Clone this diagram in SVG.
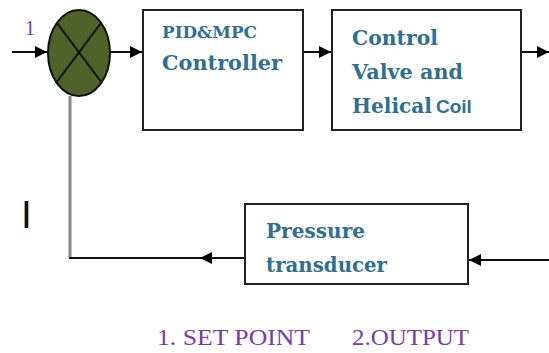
<svg xmlns="http://www.w3.org/2000/svg" width="549" height="353" viewBox="0 0 549 353">
<style>
.box{fill:#fff;stroke:#222;stroke-width:2}
.t{font-family:"DejaVu Serif","Liberation Serif",serif;font-weight:bold;fill:#2f6f8f}
.ln{fill:none;stroke:#111;stroke-width:2}
.gr{fill:none;stroke:#888;stroke-width:3}
.lab{font-family:"Liberation Serif",serif;fill:#7a3aa8}
</style>
<defs>
<marker id="ah" viewBox="0 0 10 10" refX="10" refY="5" markerWidth="12" markerHeight="12" markerUnits="userSpaceOnUse" orient="auto">
<path d="M0,0 L10,5 L0,10 z" fill="#000"/>
</marker>
</defs>
<g id="connectors">
<line class="ln" x1="12" y1="52" x2="47" y2="52" marker-end="url(#ah)"/>
<line class="ln" x1="110" y1="52" x2="142" y2="52" marker-end="url(#ah)"/>
<line class="ln" x1="303" y1="52" x2="331" y2="52" stroke="#444" marker-end="url(#ah)"/>
<line class="ln" x1="521" y1="52" x2="549" y2="52" marker-end="url(#ah)"/>
<line class="gr" x1="70" y1="96" x2="70" y2="258"/>
<line class="ln" x1="245" y1="258" x2="69" y2="258"/>
<line class="ln" x1="245" y1="258" x2="200" y2="258" marker-end="url(#ah)"/>
<line class="ln" x1="549" y1="260" x2="469" y2="260" stroke="#555" marker-end="url(#ah)"/>
</g>
<g id="sum">
<ellipse cx="79" cy="53" rx="31" ry="43" fill="#4f6228" stroke="#111" stroke-width="2"/>
<line x1="57" y1="23" x2="102" y2="83" stroke="#111" stroke-width="2"/>
<line x1="101" y1="23" x2="56" y2="83" stroke="#111" stroke-width="2"/>
</g>
<g id="controller">
<rect class="box" x="143" y="10" width="160" height="120"/>
<text class="t" x="162" y="38" font-size="16" textLength="95" lengthAdjust="spacingAndGlyphs">PID&amp;MPC</text>
<text class="t" x="162" y="70" font-size="21" textLength="120" lengthAdjust="spacingAndGlyphs">Controller</text>
</g>
<g id="valve">
<rect class="box" x="332" y="10" width="189" height="120"/>
<text class="t" x="352" y="45" font-size="21" textLength="86" lengthAdjust="spacingAndGlyphs">Control</text>
<text class="t" x="352" y="79" font-size="21" textLength="111" lengthAdjust="spacingAndGlyphs">Valve and</text>
<text class="t" x="352" y="113" font-size="21"><tspan textLength="80" lengthAdjust="spacingAndGlyphs">Helical</tspan><tspan x="436" font-family="Liberation Sans, sans-serif" font-size="19">Coil</tspan></text>
</g>
<g id="transducer">
<rect class="box" x="245" y="204" width="223" height="80"/>
<text class="t" x="266" y="238" font-size="21" textLength="99" lengthAdjust="spacingAndGlyphs">Pressure</text>
<text class="t" x="266" y="272" font-size="21" textLength="121" lengthAdjust="spacingAndGlyphs">transducer</text>
</g>
<g id="labels">
<text class="lab" x="25" y="35" font-size="20" fill="#7040c0">1</text>
<text x="21" y="228" font-family="Liberation Sans, sans-serif" font-size="39" fill="#111">I</text>
<text class="lab" x="157" y="345" font-size="23" textLength="153" lengthAdjust="spacingAndGlyphs">1. SET POINT</text>
<text class="lab" x="352" y="345" font-size="23" textLength="117" lengthAdjust="spacingAndGlyphs">2.OUTPUT</text>
</g>
</svg>
